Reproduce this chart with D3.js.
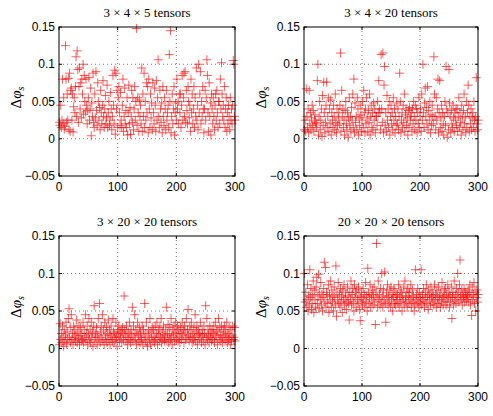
<!DOCTYPE html>
<html>
<head>
<meta charset="utf-8">
<script src="https://d3js.org/d3.v7.min.js"></script>
<style>
    body { margin: 0; background: #fff; }
</style>
</head>
<body>
<div id="chart"></div>
<script>

// panel titles
const titles = ["3 \u00d7 4 \u00d7 5 tensors", "3 \u00d7 4 \u00d7 20 tensors",
                "3 \u00d7 20 \u00d7 20 tensors", "20 \u00d7 20 \u00d7 20 tensors"];

const xTicks = [0, 100, 200, 300];
const yTicks = [-0.05, 0, 0.05, 0.1, 0.15];
const yTickLabels = ["\u22120.05", "0", "0.05", "0.1", "0.15"];

// delta phi_s for trial 1..300
const small3x4x5 = [
    .022,.018,.045,.015,.025,.080,.020,.055,.013,.017,.125,.080,.022,.060,.025,.081,.012,.088,.010,.065,
    .068,.025,.060,.009,.043,.055,.035,.070,.110,.030,.118,.093,.022,.070,.095,.040,.075,.028,.080,.060,
    .100,.033,.085,.050,.036,.080,.045,.020,.038,.055,.082,.025,.040,.068,.004,.048,.030,.088,.022,.015,
    .060,.028,.090,.038,.018,.075,.050,.025,.042,.012,.065,.035,.020,.045,.078,.030,.015,.040,.058,.020,
    .028,.072,.015,.035,.050,.018,.025,.062,.040,.012,.030,.085,.045,.020,.092,.006,.088,.040,.065,.015,
    .055,.070,.035,.018,.062,.025,.015,.045,.080,.010,.030,.068,.020,.038,.015,.055,.005,.035,.072,.020,
    .042,.006,.030,.065,.022,.055,.012,.040,.070,.025,.050,.148,.018,.055,.035,.010,.052,.030,.045,.020,
    .095,.010,.060,.030,.088,.015,.050,.025,.075,.035,.070,.008,.080,.040,.015,.060,.028,.048,.012,.075,
    .035,.020,.068,.045,.010,.078,.025,.055,.106,.030,.015,.065,.040,.022,.048,.008,.070,.030,.018,.055,
    .040,.012,.065,.025,.035,.045,.015,.113,.050,.145,.008,.030,.060,.020,.040,.070,.005,.035,.048,.025,
    .080,.040,.050,.020,.060,.035,.060,.015,.045,.085,.025,.055,.088,.030,.090,.022,.065,.038,.020,.070,
    .050,.028,.045,.010,.080,.035,.060,.020,.040,.070,.015,.055,.030,.095,.025,.045,.012,.100,.035,.060,
    .090,.020,.050,.030,.070,.040,.008,.040,.065,.025,.055,.106,.085,.035,.010,.075,.030,.048,.005,.060,
    .040,.020,.055,.030,.012,.045,.060,.025,.065,.035,.015,.050,.050,.020,.080,.040,.102,.060,.030,.045,
    .025,.070,.015,.040,.055,.010,.035,.020,.045,.030,.012,.055,.025,.040,.020,.045,.105,.100,.030,.025
];

const small3x4x20 = [
    .012,.025,.010,.067,.030,.015,.040,.008,.065,.020,.035,.012,.028,.045,.018,.038,.010,.025,.032,.022,
    .015,.020,.078,.100,.005,.030,.050,.012,.025,.040,.003,.058,.018,.076,.035,.008,.022,.045,.076,.015,
    .030,.055,.010,.040,.020,.052,.005,.035,.025,.015,.045,.030,.012,.060,.022,.008,.040,.018,.028,.035,
    .020,.045,.115,.010,.065,.030,.040,.015,.025,.005,.038,.050,.020,.012,.035,.002,.028,.055,.018,.030,
    .010,.042,.025,.060,.015,.080,.008,.048,.022,.030,.012,.055,.040,.005,.028,.018,.045,.032,.010,.025,
    .050,.015,.065,.035,.008,.040,.020,.055,.028,.010,.038,.022,.060,.005,.030,.045,.015,.035,.012,.048,
    .025,.040,.008,.030,.030,.018,.050,.035,.078,.040,.035,.012,.113,.040,.022,.115,.008,.072,.097,.018,
    .035,.010,.058,.025,.040,.015,.050,.005,.030,.045,.020,.035,.012,.055,.025,.040,.008,.030,.018,.048,
    .020,.040,.012,.030,.088,.050,.008,.025,.035,.015,.045,.022,.060,.010,.032,.040,.018,.028,.005,.038,
    .015,.042,.025,.030,.035,.010,.040,.020,.050,.030,.012,.045,.025,.040,.008,.035,.020,.055,.015,.030,
    .040,.010,.060,.025,.100,.035,.015,.048,.068,.030,.042,.020,.070,.012,.038,.025,.050,.008,.032,.018,
    .045,.030,.020,.110,.060,.030,.012,.055,.025,.040,.080,.008,.035,.078,.015,.028,.045,.010,.035,.020,
    .005,.030,.050,.018,.097,.040,.002,.035,.012,.093,.048,.030,.008,.038,.020,.015,.045,.028,.010,.035,
    .025,.040,.018,.040,.010,.030,.055,.015,.035,.022,.005,.045,.028,.012,.038,.060,.020,.030,.008,.050,
    .015,.035,.072,.045,.010,.030,.020,.040,.012,.028,.035,.015,.050,.025,.010,.030,.082,.020,.012,.025
];

const mid3x20x20 = [
    .005,.033,.012,.020,.008,.030,.015,.003,.025,.010,.018,.035,.006,.022,.012,.040,.053,.015,.028,.008,
    .045,.012,.020,.005,.030,.015,.025,.010,.018,.038,.008,.022,.013,.030,.005,.017,.028,.010,.020,.012,
    .035,.008,.025,.015,.045,.010,.020,.030,.005,.018,.040,.012,.025,.008,.035,.015,.022,.003,.030,.057,
    .010,.020,.015,.028,.005,.018,.040,.012,.060,.008,.022,.030,.015,.045,.010,.025,.005,.035,.018,.012,
    .028,.008,.020,.038,.012,.025,.005,.018,.030,.015,.010,.040,.022,.008,.020,.012,.035,.015,.003,.025,
    .018,.030,.010,.022,.015,.025,.008,.028,.020,.012,.070,.025,.018,.010,.030,.015,.005,.022,.012,.035,
    .020,.008,.025,.015,.055,.010,.030,.018,.045,.012,.025,.005,.020,.035,.010,.018,.028,.008,.022,.015,
    .012,.030,.005,.025,.015,.060,.010,.020,.035,.008,.003,.018,.025,.012,.040,.005,.022,.015,.028,.010,
    .025,.015,.008,.030,.012,.020,.035,.005,.018,.025,.010,.028,.015,.040,.008,.022,.012,.030,.018,.010,
    .015,.025,.055,.010,.020,.032,.008,.018,.028,.012,.040,.015,.005,.025,.018,.030,.010,.022,.035,.012,
    .020,.030,.010,.025,.015,.008,.028,.020,.012,.035,.018,.025,.008,.030,.022,.012,.040,.015,.025,.052,
    .018,.010,.030,.015,.025,.035,.008,.020,.012,.028,.015,.045,.010,.022,.030,.005,.018,.025,.012,.020,
    .035,.015,.008,.025,.018,.010,.030,.020,.005,.057,.015,.040,.012,.025,.018,.008,.030,.015,.022,.010,
    .025,.012,.020,.030,.008,.018,.035,.015,.025,.005,.022,.040,.012,.028,.018,.010,.030,.015,.008,.025,
    .018,.030,.010,.022,.015,.035,.008,.020,.012,.028,.015,.005,.025,.010,.018,.030,.012,.015,.028,.010
];

const large20x20x20 = [
    .100,.062,.075,.055,.065,.085,.050,.070,.058,.105,.068,.080,.052,.060,.072,.090,.048,.078,.065,.055,
    .082,.095,.060,.070,.099,.053,.075,.065,.088,.058,.072,.050,.068,.080,.115,.062,.108,.055,.075,.070,
    .060,.085,.048,.072,.065,.090,.055,.078,.062,.070,.050,.082,.068,.058,.110,.043,.075,.065,.088,.060,
    .072,.055,.080,.062,.070,.048,.078,.065,.085,.058,.068,.075,.052,.062,.082,.070,.060,.038,.075,.065,
    .090,.058,.072,.080,.062,.050,.085,.068,.075,.055,.078,.065,.060,.082,.070,.052,.037,.068,.075,.062,
    .058,.080,.065,.072,.055,.088,.062,.070,.050,.107,.075,.060,.068,.085,.055,.072,.065,.078,.058,.070,
    .082,.062,.032,.075,.140,.068,.055,.090,.065,.072,.058,.080,.062,.100,.070,.055,.078,.065,.102,.060,
    .035,.075,.068,.085,.058,.070,.062,.078,.055,.082,.065,.072,.050,.068,.080,.060,.075,.058,.070,.065,
    .072,.060,.085,.055,.068,.078,.062,.075,.050,.070,.065,.082,.058,.090,.068,.062,.075,.055,.080,.070,
    .060,.075,.065,.085,.055,.068,.078,.062,.070,.050,.058,.105,.065,.072,.060,.080,.068,.055,.075,.062,
    .068,.105,.058,.072,.065,.080,.062,.055,.075,.068,.085,.060,.070,.052,.078,.065,.072,.058,.082,.068,
    .075,.062,.070,.058,.085,.065,.072,.055,.078,.068,.060,.082,.065,.070,.055,.075,.062,.088,.068,.058,
    .070,.078,.065,.080,.058,.072,.062,.085,.068,.075,.055,.070,.062,.082,.040,.068,.075,.058,.090,.065,
    .072,.060,.080,.068,.100,.075,.062,.085,.118,.070,.065,.078,.058,.072,.068,.080,.062,.075,.070,.065,
    .072,.068,.078,.062,.075,.085,.058,.070,.044,.082,.065,.072,.088,.060,.075,.050,.068,.078,.062,.072
];

const series = [small3x4x5, small3x4x20, mid3x20x20, large20x20x20];

const sansFont = "'Liberation Sans', Arial, Helvetica, sans-serif";
const serifFont = "'Liberation Serif', 'Times New Roman', 'DejaVu Serif', serif";

// panel boxes in page pixels
const panels = [
    {left: 59, top: 27, width: 176, height: 149},
    {left: 304, top: 27, width: 174, height: 149},
    {left: 59, top: 236, width: 176, height: 150},
    {left: 304, top: 236, width: 174, height: 150}
];

const svg = d3.select("#chart").append("svg")
    .attr("width", 493)
    .attr("height", 416);

panels.forEach((p, i) => {
    let g = svg.append("g")
        .attr("transform", `translate(${p.left},${p.top})`);

    let x = d3.scaleLinear().domain([0, 300]).range([0, p.width]);
    let y = d3.scaleLinear().domain([-0.05, 0.15]).range([p.height, 0]);

    // dotted grid on inner ticks
    g.selectAll(".vgrid")
        .data(xTicks.slice(1, -1))
        .enter().append("line")
        .attr("x1", d => x(d)).attr("x2", d => x(d))
        .attr("y1", 0).attr("y2", p.height)
        .attr("stroke", "#555")
        .attr("stroke-width", 0.8)
        .attr("stroke-dasharray", "1,3");

    g.selectAll(".hgrid")
        .data(yTicks.slice(1, -1))
        .enter().append("line")
        .attr("y1", d => y(d)).attr("y2", d => y(d))
        .attr("x1", 0).attr("x2", p.width)
        .attr("stroke", "#555")
        .attr("stroke-width", 0.8)
        .attr("stroke-dasharray", "1,3");

    // plus markers
    let s = 4.5;
    g.selectAll(".pt")
        .data(series[i])
        .enter().append("path")
        .attr("d", (d, k) => {
            let cx = x(k + 1), cy = y(d);
            return `M${cx - s},${cy}H${cx + s}M${cx},${cy - s}V${cy + s}`;
        })
        .attr("stroke", "#ff0000")
        .attr("stroke-opacity", 0.7)
        .attr("stroke-width", 0.9)
        .attr("fill", "none");

    // frame and inward ticks on all four sides
    g.append("rect")
        .attr("width", p.width).attr("height", p.height)
        .attr("fill", "none").attr("stroke", "#000").attr("stroke-width", 1);

    let tickLen = 3;
    xTicks.forEach(t => {
        g.append("line").attr("x1", x(t)).attr("x2", x(t)).attr("y1", p.height).attr("y2", p.height - tickLen).attr("stroke", "#000");
        g.append("line").attr("x1", x(t)).attr("x2", x(t)).attr("y1", 0).attr("y2", tickLen).attr("stroke", "#000");
    });
    yTicks.forEach(t => {
        g.append("line").attr("y1", y(t)).attr("y2", y(t)).attr("x1", 0).attr("x2", tickLen).attr("stroke", "#000");
        g.append("line").attr("y1", y(t)).attr("y2", y(t)).attr("x1", p.width).attr("x2", p.width - tickLen).attr("stroke", "#000");
    });

    // tick labels
    g.selectAll(".xl")
        .data(xTicks)
        .enter().append("text")
        .attr("font-family", sansFont)
        .attr("font-size", 12)
        .attr("x", d => x(d))
        .attr("y", p.height + 15)
        .attr("text-anchor", "middle")
        .text(d => d);

    g.selectAll(".yl")
        .data(yTicks)
        .enter().append("text")
        .attr("font-family", sansFont)
        .attr("font-size", 12)
        .attr("x", -4)
        .attr("y", d => y(d) + 4)
        .attr("text-anchor", "end")
        .text((d, k) => yTickLabels[k]);

    // title
    g.append("text")
        .attr("font-family", serifFont)
        .attr("font-size", 13)
        .attr("x", p.width / 2)
        .attr("y", -10)
        .attr("text-anchor", "middle")
        .text(titles[i]);

    // y label: delta phi_s
    let yl = g.append("text")
        .attr("font-family", serifFont)
        .attr("font-size", 15)
        .attr("transform", `translate(${-38},${p.height / 2 - 4}) rotate(-90)`)
        .attr("text-anchor", "middle");
    yl.append("tspan").text("\u0394");
    yl.append("tspan").attr("font-style", "italic").text("\u03c6");
    yl.append("tspan").attr("font-style", "italic").attr("font-size", 10).attr("dy", 3).text("s");
});

</script>
</body>
</html>
